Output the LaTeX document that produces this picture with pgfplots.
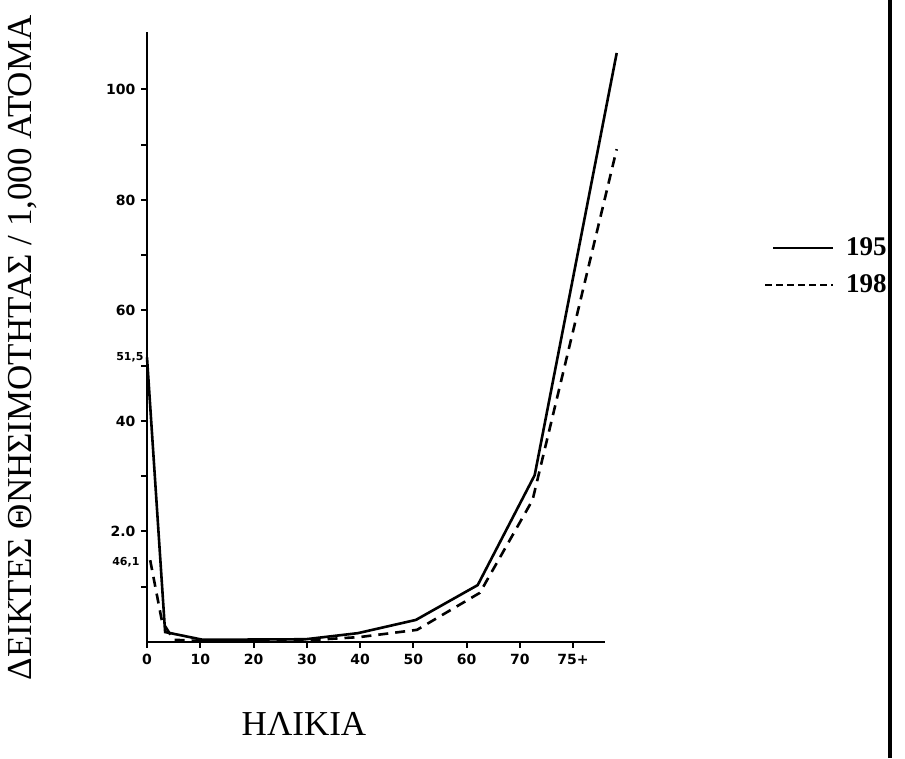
\documentclass[border=0pt]{standalone}
\usepackage{fontspec}
\setmainfont{Liberation Serif}
\newfontfamily\hand{DejaVu Sans}
\usepackage{pgfplots}
\pgfplotsset{compat=1.18}

\begin{document}
\begin{tikzpicture}[x=1pt,y=1pt]
  \useasboundingbox (0,0) rectangle (905,758);

  % vertical axis title and horizontal axis title
  \node[rotate=90,font=\fontsize{35}{35}\selectfont] at (23,410)
    {ΔΕΙΚΤΕΣ ΘΝΗΣΙΜΟΤΗΤΑΣ / 1,000 ΑΤΟΜΑ};
  \node[font=\fontsize{35}{35}\selectfont] at (304,34) {ΗΛΙΚΙΑ};

  \begin{axis}[
      at={(147pt,116pt)},
      anchor=south west,
      scale only axis,
      width=458pt,
      height=610pt,
      xmin=0, xmax=86,
      ymin=0, ymax=110.4,
      axis x line=bottom,
      axis y line=left,
      axis line style={-, line width=2.6pt},
      xtick={0,10,20,30,40,50,60,70,80},
      xticklabels={0,10,20,30,40,50,60,70,75+},
      ytick={20,40,60,80,100},
      yticklabels={2.0,40,60,80,100},
      minor ytick={10,30,50,70,90},
      tick align=outside,
      major tick length=6pt,
      minor tick length=6pt,
      tick style={black, line width=2pt},
      tick label style={font=\hand\bfseries\fontsize{14}{14}\selectfont},
      xticklabel style={yshift=-3pt},
      yticklabel style={xshift=-2pt},
      clip=false
    ]

    % 1955
    \addplot[black, line width=2.6pt] coordinates {
      (0,51.5) (3.4,1.8) (10.5,0.4) (29.8,0.5) (39.6,1.6)
      (50.5,4.0) (62.1,10.3) (72.8,30.2) (88.2,106.6)
    };

    % 1980
    \addplot[black, line width=2.6pt, dash pattern=on 10pt off 7pt] coordinates {
      (0.6,14.8) (2.8,3.8) (5,0.4) (10,0.2) (30,0.3) (40,0.9)
      (50.7,2.2) (62.5,8.9) (72.4,25.7) (88.2,89.2)
    };

    \node[anchor=east, font=\hand\bfseries\fontsize{11}{11}\selectfont]
      at (axis cs:0,51.5) {51,5};
    \node[anchor=east, font=\hand\bfseries\fontsize{11}{11}\selectfont, xshift=-4pt]
      at (axis cs:0,14.5) {46,1};
  \end{axis}

  % legend, as far as it shows before the frame line
  \draw[line width=2pt] (773,510) -- (833,510);
  \node[anchor=west, inner sep=0pt, font=\bfseries\fontsize{27}{27}\selectfont] at (846,511) {195};
  \draw[line width=2pt, dash pattern=on 7pt off 4pt] (765,473) -- (833,473);
  \node[anchor=west, inner sep=0pt, font=\bfseries\fontsize{27}{27}\selectfont] at (846,474) {198};
  \draw[line width=4.5pt] (890,0) -- (890,758);
\end{tikzpicture}
\end{document}
